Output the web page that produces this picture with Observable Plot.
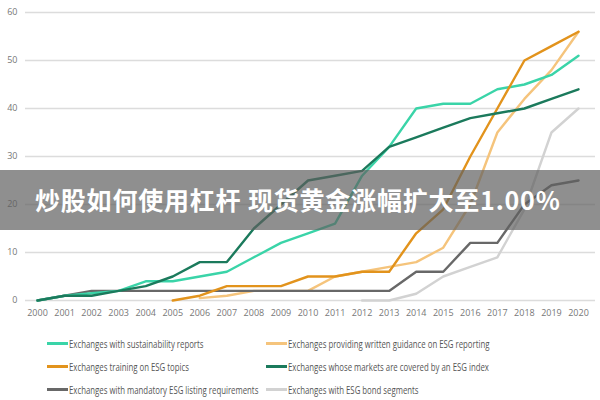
<!DOCTYPE html>
<html><head><meta charset="utf-8">
<script src="https://cdn.jsdelivr.net/npm/d3@7"></script>
<script src="https://cdn.jsdelivr.net/npm/@observablehq/plot@0.6"></script>
<style>
body{margin:0;background:#fff;font-family:"Open Sans",sans-serif;}
#wrap{position:relative;width:600px;height:400px;overflow:hidden;}
#legend{position:absolute;left:0;top:325px;width:600px;height:75px;}
.item{position:absolute;font-size:10px;color:#555;line-height:12px;white-space:nowrap;}
.sw{display:inline-block;width:21px;height:3px;vertical-align:middle;margin-right:1px;position:relative;top:-1px;}
.tx{display:inline-block;transform:scaleX(0.78);transform-origin:left center;vertical-align:middle;}
#banner{position:absolute;left:0;top:170px;width:600px;height:60px;background:rgba(95,95,95,0.7);}
#banner span{position:absolute;left:35px;top:11px;font-family:"Noto Sans CJK SC";font-weight:bold;font-size:25px;color:#fff;letter-spacing:0.8px;white-space:nowrap;}
</style></head>
<body><div id="wrap"><div id="chart"></div><div id="legend"></div><div id="banner"><span>炒股如何使用杠杆 现货黄金涨幅扩大至1.00%</span></div></div>
<script>
const years = [2000,2001,2002,2003,2004,2005,2006,2007,2008,2009,2010,2011,2012,2013,2014,2015,2016,2017,2018,2019,2020];
const yTicks = [0,10,20,30,40,50,60];
const seriesNames = [
  "Exchanges with sustainability reports",
  "Exchanges providing written guidance on ESG reporting",
  "Exchanges training on ESG topics",
  "Exchanges whose markets are covered by an ESG index",
  "Exchanges with mandatory ESG listing requirements",
  "Exchanges with ESG bond segments"
];
const seriesColors = ["#3ad4a8","#f5c47c","#e2931c","#1b7a5c","#686868","#d2d2d2"];
const sustainability = [0,1,1.5,2,4,4,5,6,9,12,14,16,26,32,40,41,41,44,45,47,51];
const writtenGuidance = [null,null,null,null,null,null,0.5,1,2,2,2,5,6,7,8,11,20,35,42,48,56];
const training = [null,null,null,null,null,0,1,3,3,3,5,5,6,6,14,19,30,40,50,53,56];
const esgIndex = [0,1,1,2,3,5,8,8,15,20,25,26,27,32,34,36,38,39,40,42,44];
const mandatory = [0,1,2,2,2,2,2,2,2,2,2,2,2,2,6,6,12,12,20,24,25];
const bondSegments = [null,null,null,null,null,null,null,null,null,null,null,null,0,0,1.4,5,7,9,19,35,40];

const allSeries = [sustainability, writtenGuidance, training, esgIndex, mandatory, bondSegments];
const drawOrder = [5,1,4,0,2,3];
const rows = [];
for (const i of drawOrder) {
  allSeries[i].forEach((v, k) => { if (v !== null) rows.push({year: years[k], value: v, series: seriesNames[i]}); });
}

const plot = Plot.plot({
  width: 600, height: 325,
  marginTop: 12, marginBottom: 25, marginLeft: 25, marginRight: 5,
  style: {fontFamily: "Open Sans", fontSize: "9px", color: "#777"},
  x: {domain: [2000, 2020], insetLeft: 12, insetRight: 17, label: null},
  y: {domain: [0, 60], label: null},
  color: {domain: seriesNames, range: seriesColors},
  marks: [
    Plot.ruleY(yTicks, {stroke: "#dcdcdc", strokeWidth: 1.5}),
    Plot.axisX({ticks: years, tickFormat: d => String(d), tickSize: 0, tickPadding: 9, fill: "#777"}),
    Plot.axisY({ticks: yTicks, tickSize: 0, tickPadding: 8, fill: "#777"}),
    Plot.line(rows, {x: "year", y: "value", z: "series", stroke: "series", strokeWidth: 2.4, curve: "linear"})
  ]
});
document.getElementById("chart").appendChild(plot);

const legend = document.getElementById("legend");
const positions = [[47,12],[266,12],[47,35],[266,35],[47,58],[266,58]];
seriesNames.forEach((n, i) => {
  const d = document.createElement("div");
  d.className = "item";
  d.style.left = positions[i][0] + "px";
  d.style.top = positions[i][1] + "px";
  d.innerHTML = `<span class="sw" style="background:${seriesColors[i]}"></span><span class="tx">${n}</span>`;
  legend.appendChild(d);
});
</script></body></html>
